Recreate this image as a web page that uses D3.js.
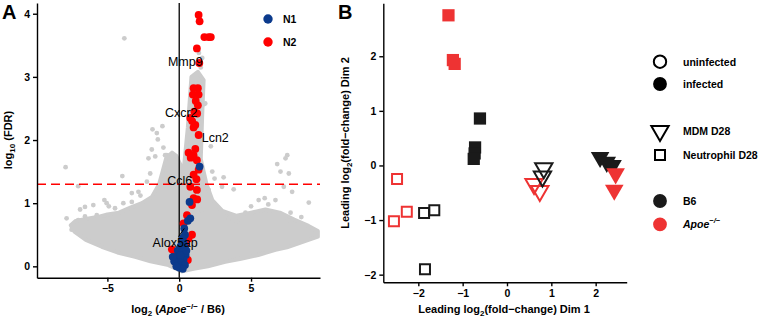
<!DOCTYPE html>
<html>
<head>
<meta charset="utf-8">
<script src="https://cdn.jsdelivr.net/npm/d3@7"></script>
<style>
  body { margin: 0; background: #fff; }
  svg { display: block; font-family: "Liberation Sans", Arial, sans-serif; }
  .axis path, .axis line { stroke: #000; stroke-width: 1.4px; }
  .axis text { font-size: 10.5px; font-weight: bold; fill: #000; }
</style>
</head>
<body>
<div id="chart"></div>
<script>
// ---- panel A: volcano ----
// outline of the dense cloud of non-significant genes
const cloudX = [0.2, -0.75, -2.0, -3.07, -4.3, -5.39, -6.5, -7.3, -7.55, -7.2, -6.5, -5.7, -5.0, -4.2, -3.4, -2.6, -1.9, -1.4, -1.1, -0.9, -0.5, -0.2,
  0.3, 0.6, 0.85, 1.3, 1.7, 1.6, 1.5, 1.9, 2.3, 3.0, 4.0, 5.0, 6.0, 7.0, 8.0, 9.0, 9.65, 9.65, 8.5, 7.5, 6.7, 5.5, 4.3, 3.2, 2.0, 1.0];
const cloudY = [-0.08, 0.02, 0.08, 0.15, 0.22, 0.31, 0.42, 0.55, 0.65, 0.72, 0.75, 0.78, 0.82, 0.85, 0.93, 1.0, 1.1, 1.3, 1.55, 1.72, 1.8, 1.75,
  1.5, 2.2, 3.0, 3.08, 2.95, 2.4, 1.7, 1.3, 1.05, 0.88, 0.8, 0.85, 0.9, 0.85, 0.74, 0.64, 0.56, 0.47, 0.38, 0.3, 0.26, 0.18, 0.12, 0.07, 0.0, -0.04];
// scattered background genes
const grayX = [-3.82, -1.86, -1.17, -1.56, -1.49, -1.91, -1.10, -0.86, -1.67, -2.14, -7.91, -7.03, -3.96, -3.30, -2.84, -5.21, -6.56, -5.98, -7.84,
  -5.05, -4.47, -3.89, -3.30, -7.03, -6.56, -5.74, -7.49, -2.25, -2.02, -0.98, 1.81, 7.52, 7.40, 6.82, 7.05, 7.63, 3.09, 2.46, 2.05, 2.98, 3.79,
  7.28, 7.86, 9.02, 5.95, 5.53, 6.70, 4.61, 7.75, 7.52, 3.44, 4.02, 1.58, 1.74, 1.37, 1.6, 2.2, 1.5, 1.2, 2.3, 5.0, 6.2, 8.5, -6.9, -4.9, -2.7];
const grayY = [3.61, 2.17, 2.22, 2.11, 2.01, 1.85, 1.88, 1.76, 1.74, 1.71, 1.57, 1.27, 1.43, 1.16, 1.18, 1.05, 0.94, 0.97, 0.76,
  1.0, 0.92, 1.0, 1.02, 0.73, 0.79, 0.81, 0.58, 1.34, 1.47, 1.76, 2.58, 1.76, 1.71, 1.62, 1.50, 1.47, 1.41, 1.39, 1.21, 1.26, 1.22,
  1.26, 1.18, 1.01, 1.08, 1.05, 1.05, 0.85, 0.85, 0.73, 0.76, 0.71, 0.89, 2.57, 3.38, 3.3, 1.9, 3.15, 2.9, 1.5, 0.95, 0.98, 0.78, 0.9, 0.95, 1.12];
// N2 genes
const n2X = [1.35, 1.42, 1.75, 2.05, 2.2, 1.23, 1.4, 1.0, 1.3, 0.95, 1.35, 1.15, 1.3, 1.05, 1.25, 0.77, 0.9, 1.12, 1.0, 1.35,
  1.12, 0.65, 0.8, 1.0, 1.23, 1.35, 1.0, 1.2, 0.77, 1.23, 1.0, 1.25, 0.89, 0.54, 0.3, 0.89, 0.65, -0.51, -0.3, 0.6, 0.45, -0.2];
const n2Y = [3.98, 3.88, 3.63, 3.63, 3.63, 3.45, 3.22, 2.82, 2.82, 2.72, 2.72, 2.62, 2.55, 2.45, 2.42, 2.35, 2.3, 2.24, 2.2, 2.08,
  1.86, 1.8, 1.72, 1.76, 1.68, 1.53, 1.45, 1.38, 1.26, 1.21, 1.08, 1.06, 0.97, 0.81, 0.68, 0.50, 0.44, 0.27, 0.2, 0.1, 0.35, 0.05];
// N1 genes
const n1X = [1.42, 0.72, 0.77, 0.6, 0.35, 0.4, 0.25, 0.3, 0.1, 0.4, -0.1, 0.2, 0.45, -0.2, 0.05, 0.3, -0.35, 0.15, -0.1, 0.4, 0.0, 0.25, -0.2, 0.1, 0.5, -0.45];
const n1Y = [1.58, 1.02, 0.76, 0.72, 0.6, 0.5, 0.45, 0.38, 0.32, 0.3, 0.25, 0.22, 0.18, 0.15, 0.12, 0.1, 0.08, 0.05, 0.02, 0.02, -0.02, -0.04, 0.0, 0.18, 0.25, 0.15];
// labelled genes: label centre
const labelGenes = ["Mmp9", "Cxcr2", "Lcn2", "Ccl6", "Alox5ap"];
const labelX = [0.42, 0.14, 2.51, 0.03, -0.28];
const labelY = [3.24, 2.43, 2.03, 1.35, 0.37];
const fdrCut = 1.301;
const xTicksA = [-5, 0, 5], yTicksA = [0, 1, 2, 3, 4];

// ---- panel B: MDS ----
const mdsDim1 = [-1.32, -1.22, -1.18, -0.61, -0.72, -0.73, -0.75, -2.48, -2.26, -2.55, -1.87, -1.64, -1.85, 0.61, 0.74, 0.83, 0.8, 2.1, 2.25, 2.38, 2.45, 2.42];
const mdsDim2 = [2.75, 1.93, 1.86, 0.86, 0.33, 0.22, 0.12, -0.25, -0.85, -1.02, -0.87, -0.82, -1.90, -0.34, -0.47, -0.05, -0.2, 0.15, 0.06, 0.0, -0.15, -0.45];
const mdsCell = ["N", "N", "N", "N", "N", "N", "N", "N", "N", "N", "N", "N", "N", "M", "M", "M", "M", "M", "M", "M", "M", "M"];
const mdsInfected = [1, 1, 1, 1, 1, 1, 1, 0, 0, 0, 0, 0, 0, 0, 0, 0, 0, 1, 1, 1, 1, 1];
const mdsStrain = ["Apoe", "Apoe", "Apoe", "B6", "B6", "B6", "B6", "Apoe", "Apoe", "Apoe", "B6", "B6", "B6", "Apoe", "Apoe", "B6", "B6", "B6", "B6", "B6", "Apoe", "Apoe"];
const ticksB = [-2, -1, 0, 1, 2];

const W = 761, H = 319;
const svg = d3.select("#chart").append("svg").attr("width", W).attr("height", H);

// ================= A =================
const xA = d3.scaleLinear().domain([-9.9, 9.8]).range([37, 320]);
const yA = d3.scaleLinear().domain([-0.18, 4.17]).range([277.7, 3]);
const gA = svg.append("g");

const cloud = cloudX.map((x, i) => [x, cloudY[i]]);
gA.append("path")
  .attr("d", d3.line().x(d => xA(d[0])).y(d => yA(d[1])).curve(d3.curveLinearClosed)(cloud))
  .attr("fill", "#cccccc").attr("stroke", "#cccccc").attr("stroke-width", 4).attr("stroke-linejoin", "round");

gA.selectAll(".gray").data(grayX.map((x, i) => [x, grayY[i]])).enter().append("circle")
  .attr("cx", d => xA(d[0])).attr("cy", d => yA(d[1])).attr("r", 2.4).attr("fill", "#cccccc");

gA.append("line").attr("x1", xA(0)).attr("x2", xA(0)).attr("y1", yA(4.17)).attr("y2", yA(-0.18))
  .attr("stroke", "#000").attr("stroke-width", 1.3);
gA.append("line").attr("x1", xA(-9.9)).attr("x2", xA(9.8)).attr("y1", yA(fdrCut)).attr("y2", yA(fdrCut))
  .attr("stroke", "#ff0000").attr("stroke-width", 1.5).attr("stroke-dasharray", "9,5");

gA.selectAll(".n2").data(n2X.map((x, i) => [x, n2Y[i]])).enter().append("circle")
  .attr("cx", d => xA(d[0])).attr("cy", d => yA(d[1])).attr("r", 3.9).attr("fill", "#ff0000");
gA.selectAll(".n1").data(n1X.map((x, i) => [x, n1Y[i]])).enter().append("circle")
  .attr("cx", d => xA(d[0])).attr("cy", d => yA(d[1])).attr("r", 3.9).attr("fill", "#0b3a8c");

// leader for Alox5ap
gA.append("line").attr("x1", xA(-0.05)).attr("y1", yA(0.47)).attr("x2", xA(0.35)).attr("y2", yA(0.6))
  .attr("stroke", "#000").attr("stroke-width", 1);

gA.selectAll(".lab").data(labelGenes).enter().append("text")
  .attr("x", (d, i) => xA(labelX[i])).attr("y", (d, i) => yA(labelY[i]))
  .attr("text-anchor", "middle").attr("dominant-baseline", "central")
  .style("font-size", "12.5px").text(d => d);

gA.append("g").attr("class", "axis").attr("transform", `translate(0,${yA(-0.18)})`)
  .call(d3.axisBottom(xA).tickValues(xTicksA).tickSize(4).tickSizeOuter(0).tickFormat(d3.format("d")));
gA.append("g").attr("class", "axis").attr("transform", `translate(${xA(-9.9)},0)`)
  .call(d3.axisLeft(yA).tickValues(yTicksA).tickSize(4).tickSizeOuter(0).tickFormat(d3.format("d")));

// legend A
[["N1", "#0b3a8c"], ["N2", "#ff0000"]].forEach((d, i) => {
  svg.append("circle").attr("cx", 268).attr("cy", 19 + i * 23).attr("r", 4.7).attr("fill", d[1]);
  svg.append("text").attr("x", 283).attr("y", 19 + i * 23).attr("dominant-baseline", "central")
    .style("font-size", "10.5px").style("font-weight", "bold").text(d[0]);
});

// titles A
const xtA = svg.append("text").attr("x", 178).attr("y", 313).attr("text-anchor", "middle")
  .style("font-size", "11px").style("font-weight", "bold");
xtA.append("tspan").text("log");
xtA.append("tspan").attr("dy", 2.5).style("font-size", "8px").text("2");
xtA.append("tspan").attr("dy", -2.5).text(" (");
xtA.append("tspan").style("font-style", "italic").text("Apoe");
xtA.append("tspan").attr("dy", -4).style("font-size", "8px").text("−/−");
xtA.append("tspan").attr("dy", 4).text(" / B6)");

const ytA = svg.append("text").attr("transform", "translate(12,140) rotate(-90)").attr("text-anchor", "middle")
  .style("font-size", "11px").style("font-weight", "bold");
ytA.append("tspan").text("log");
ytA.append("tspan").attr("dy", 2.5).style("font-size", "8px").text("10");
ytA.append("tspan").attr("dy", -2.5).text(" (FDR)");

svg.append("text").attr("x", 2).attr("y", 19).style("font-size", "20px").style("font-weight", "bold").text("A");

// ================= B =================
const xB = d3.scaleLinear().domain([-2.79, 2.70]).range([383.3, 626.7]);
const yB = d3.scaleLinear().domain([-2.14, 2.97]).range([282.3, 3.3]);
const gB = svg.append("g");
const colB = { B6: "#1a1a1a", Apoe: "#ee3333" };

const mds = mdsDim1.map((x, i) => ({ x, y: mdsDim2[i], cell: mdsCell[i], inf: mdsInfected[i], strain: mdsStrain[i] }));
const order = [13, 14, 15, 16, 7, 8, 9, 10, 11, 12, 3, 4, 5, 6, 0, 1, 2, 17, 18, 19, 20, 21];
gB.selectAll(".pt").data(order.map(i => mds[i])).enter().append("path")
  .attr("transform", d => `translate(${xB(d.x)},${yB(d.y)})` + (d.cell === "M" ? " rotate(180)" : ""))
  .attr("d", d => d3.symbol().type(d.cell === "M" ? d3.symbolTriangle : d3.symbolSquare)
    .size(d.cell === "M" ? (d.inf ? 150 : 130) : (d.inf ? 150 : 100))())
  .attr("fill", d => d.inf ? colB[d.strain] : "none")
  .attr("stroke", d => colB[d.strain])
  .attr("stroke-width", d => d.inf ? 0 : 2);

gB.append("g").attr("class", "axis").attr("transform", `translate(0,${yB(-2.14)})`)
  .call(d3.axisBottom(xB).tickValues(ticksB).tickSize(4).tickSizeOuter(0).tickFormat(d3.format("d")));
gB.append("g").attr("class", "axis").attr("transform", `translate(${xB(-2.79)},0)`)
  .call(d3.axisLeft(yB).tickValues(ticksB).tickSize(4).tickSizeOuter(0).tickFormat(d3.format("d")));

// legend B
const legB = svg.append("g").attr("transform", "translate(660,0)");
const legItems = [
  { y: 61.7, sym: d3.symbolCircle, size: 120, fill: "none", stroke: "#000", label: "uninfected" },
  { y: 84, sym: d3.symbolCircle, size: 150, fill: "#000", stroke: "none", label: "infected" },
  { y: 131, sym: d3.symbolTriangle, size: 130, fill: "none", stroke: "#000", label: "MDM D28", rot: true },
  { y: 155, sym: d3.symbolSquare, size: 100, fill: "none", stroke: "#000", label: "Neutrophil D28" },
  { y: 201, sym: d3.symbolCircle, size: 150, fill: colB.B6, stroke: "none", label: "B6" },
  { y: 224.3, sym: d3.symbolCircle, size: 150, fill: colB.Apoe, stroke: "none", label: "Apoe" }
];
legItems.forEach(d => {
  legB.append("path").attr("transform", `translate(0,${d.y})` + (d.rot ? " rotate(180)" : ""))
    .attr("d", d3.symbol().type(d.sym).size(d.size)()).attr("fill", d.fill).attr("stroke", d.stroke).attr("stroke-width", 2);
  const t = legB.append("text").attr("x", 23).attr("y", d.y).attr("dominant-baseline", "central")
    .style("font-size", "10.5px").style("font-weight", "bold");
  if (d.label === "Apoe") {
    t.append("tspan").style("font-style", "italic").text("Apoe");
    t.append("tspan").attr("dy", -4).style("font-size", "7.5px").style("font-style", "italic").text("−/−");
  } else t.text(d.label);
});

// titles B
const xtB = svg.append("text").attr("x", 504).attr("y", 313).attr("text-anchor", "middle")
  .style("font-size", "11px").style("font-weight", "bold");
xtB.append("tspan").text("Leading log");
xtB.append("tspan").attr("dy", 2.5).style("font-size", "8px").text("2");
xtB.append("tspan").attr("dy", -2.5).text("(fold−change) Dim 1");

const ytB = svg.append("text").attr("transform", "translate(349,143) rotate(-90)").attr("text-anchor", "middle")
  .style("font-size", "11px").style("font-weight", "bold");
ytB.append("tspan").text("Leading log");
ytB.append("tspan").attr("dy", 2.5).style("font-size", "8px").text("2");
ytB.append("tspan").attr("dy", -2.5).text("(fold−change) Dim 2");

svg.append("text").attr("x", 338).attr("y", 19).style("font-size", "20px").style("font-weight", "bold").text("B");
</script>
</body>
</html>
